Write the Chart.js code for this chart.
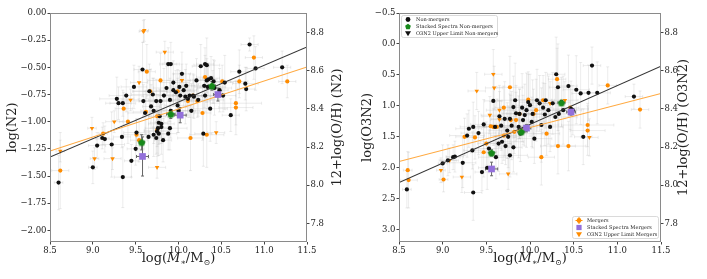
<!DOCTYPE html>
<html>
<head>
<meta charset="utf-8">
<script src="https://cdn.jsdelivr.net/npm/chart.js@4.4.1/dist/chart.umd.min.js"></script>
<style>
  html, body { margin: 0; padding: 0; background: #fff; }
  #wrap { position: relative; width: 707px; height: 279px; }
  .panel { position: absolute; top: 0; height: 279px; }
</style>
</head>
<body>
<div id="wrap">
  <div class="panel" style="left:0;width:355px"><canvas id="n2Chart"></canvas></div>
  <div class="panel" style="left:355px;width:352px"><canvas id="o3n2Chart"></canvas></div>
</div>
<script>
// rows are [logMass, value, xErr, yErr]
const nonMergersN2 = [
  [8.60,-1.56,0.05,0.25],[9.00,-1.42,0.05,0.15],[9.05,-1.22,0.10,0.12],[9.11,-1.15,0.08,0.10],
  [9.14,-1.16,0.10,0.12],[9.22,-1.21,0.15,0.30],[9.28,-0.79,0.20,0.20],[9.30,-0.83,0.15,0.15],
  [9.35,-0.83,0.15,0.12],[9.35,-1.51,0.10,0.28],[9.34,-1.14,0.10,0.10],[9.39,-0.76,0.20,0.15],
  [9.45,-1.36,0.08,0.15],[9.48,-0.68,0.15,0.20],[9.50,-1.25,0.10,0.15],[9.51,-1.10,0.15,0.12],
  [9.58,-0.52,0.10,0.25],[9.59,-0.81,0.30,0.15],[9.61,-0.92,0.20,0.20],[9.65,-1.14,0.15,0.20],
  [9.66,-0.72,0.20,0.25],[9.68,-0.86,0.10,0.20],[9.70,-0.75,0.25,0.15],[9.71,-0.90,0.15,0.30],
  [9.74,-1.15,0.10,0.15],[9.74,-0.81,0.20,0.20],[9.76,-1.06,0.15,0.25],[9.77,-1.11,0.10,0.20],
  [9.78,-0.95,0.20,0.25],[9.79,-0.81,0.25,0.20],[9.80,-1.02,0.15,0.18],[9.82,-1.17,0.10,0.20],
  [9.83,-0.76,0.20,0.25],[9.86,-0.69,0.15,0.20],[9.88,-0.47,0.10,0.15],[9.91,-0.47,0.10,0.20],
  [9.90,-0.80,0.25,0.20],[9.91,-0.90,0.20,0.25],[9.94,-0.64,0.15,0.20],[9.94,-0.71,0.20,0.15],
  [9.97,-0.73,0.10,0.20],[9.99,-0.85,0.15,0.25],[10.00,-0.90,0.20,0.20],[10.01,-0.68,0.10,0.15],
  [10.02,-0.76,0.25,0.20],[10.04,-0.56,0.10,0.20],[10.06,-0.71,0.15,0.15],[10.08,-0.77,0.20,0.25],
  [10.09,-0.67,0.10,0.20],[10.11,-0.79,0.15,0.15],[10.13,-0.76,0.20,0.20],[10.15,-0.90,0.10,0.25],
  [10.17,-0.76,0.15,0.15],[10.18,-0.77,0.20,0.20],[10.21,-0.62,0.10,0.20],[10.23,-0.80,0.30,0.15],
  [10.26,-0.49,0.10,0.20],[10.31,-0.47,0.10,0.15],[10.33,-0.48,0.15,0.25],[10.29,-1.11,0.10,0.30],
  [10.30,-0.67,0.15,0.20],[10.31,-0.76,0.20,0.15],[10.33,-0.62,0.10,0.20],[10.34,-0.68,0.15,0.20],
  [10.35,-0.61,0.10,0.15],[10.37,-0.88,0.20,0.30],[10.38,-0.60,0.10,0.20],[10.40,-0.68,0.15,0.15],
  [10.41,-0.63,0.10,0.20],[10.42,-0.69,0.20,0.25],[10.48,-0.71,0.10,0.20],[10.52,-0.76,0.15,0.15],
  [10.54,-0.64,0.10,0.25],[10.61,-0.94,0.10,0.15],[10.71,-0.54,0.10,0.20],[10.78,-0.65,0.15,0.15],
  [10.79,-0.70,0.10,0.20],[10.83,-0.29,0.10,0.06],[10.90,-0.51,0.10,0.20],[11.21,-0.50,0.10,0.15],
  [9.75,-1.09,0.15,0.20],[9.80,-1.05,0.10,0.25],[9.90,-1.06,0.20,0.20],[9.88,-1.11,0.10,0.15],
  [9.71,-1.12,0.15,0.20],[9.77,-1.01,0.10,0.20]
];
const mergersN2 = [
  [8.62,-1.45,0.10,0.35],[9.12,-1.11,0.05,0.10],[9.36,-0.88,0.10,0.15],[9.41,-1.00,0.10,0.20],
  [9.51,-1.12,0.15,0.15],[9.54,-1.17,0.10,0.20],[9.62,-0.91,0.15,0.20],[9.63,-0.54,0.10,0.25],
  [9.67,-0.72,0.20,0.20],[9.75,-0.95,0.10,0.20],[9.75,-1.08,0.15,0.15],[9.79,-0.62,0.15,0.25],
  [9.99,-0.72,0.20,0.20],[10.11,-0.81,0.10,0.15],[10.14,-1.15,0.15,0.30],[10.17,-0.76,0.10,0.20],
  [10.22,-0.81,0.15,0.15],[10.28,-0.92,0.10,0.25],[10.31,-0.59,0.10,0.20],[10.33,-1.12,0.20,0.30],
  [10.51,-0.63,0.10,0.15],[10.67,-0.83,0.30,0.20],[10.67,-0.87,0.20,0.25],[10.71,-0.63,0.10,0.15],
  [10.88,-0.41,0.10,0.20],[11.27,-0.63,0.10,0.15]
];
const mergerLimitsN2 = [
  [8.62,-1.27,0.05,0.10],[8.99,-1.06,0.05,0.10],[9.02,-1.34,0.05,0.10],[9.23,-1.34,0.10,0.10],
  [9.25,-1.00,0.10,0.10],[9.44,-0.80,0.10,0.10],[9.54,-0.64,0.10,0.15],[9.59,-0.17,0.05,0.10],
  [9.60,-0.16,0.05,0.10],[9.75,-1.42,0.10,0.10],[9.84,-0.36,0.10,0.10],[10.04,-0.62,0.10,0.15],
  [10.44,-1.10,0.10,0.10]
];
const stackNonN2 = [[9.57,-1.19,0.03,0.07],[9.91,-0.93,0.05,0.04],[10.39,-0.67,0.04,0.04]];
const stackMerN2 = [[9.58,-1.32,0.07,0.18],[10.02,-0.94,0.07,0.07],[10.46,-0.75,0.05,0.06]];

const nonMergersO3N2 = [
  [8.59,2.35,0.05,0.30],[9.00,1.93,0.05,0.30],[9.06,1.88,0.10,0.25],[9.12,1.83,0.08,0.20],
  [9.14,1.82,0.10,0.25],[9.23,1.92,0.15,0.40],[9.28,1.48,0.20,0.35],[9.30,1.37,0.15,0.30],
  [9.35,1.34,0.15,0.40],[9.35,2.40,0.10,0.45],[9.34,1.72,0.10,0.30],[9.41,1.44,0.20,0.35],
  [9.45,2.07,0.08,0.30],[9.47,1.30,0.15,0.40],[9.51,2.00,0.10,0.35],[9.53,1.69,0.15,0.30],
  [9.58,0.92,0.10,0.45],[9.60,1.34,0.30,0.40],[9.61,1.83,0.20,0.35],[9.64,1.61,0.15,0.45],
  [9.65,1.17,0.20,0.50],[9.67,1.32,0.10,0.40],[9.68,1.58,0.25,0.35],[9.71,1.21,0.15,0.60],
  [9.72,1.65,0.10,0.30],[9.74,1.40,0.20,0.45],[9.75,1.50,0.15,0.50],[9.77,1.21,0.10,0.40],
  [9.77,1.80,0.20,0.35],[9.79,1.32,0.25,0.55],[9.81,1.02,0.15,0.50],[9.81,1.67,0.10,0.40],
  [9.83,0.91,0.20,0.60],[9.84,1.12,0.15,0.45],[9.87,1.34,0.10,0.50],[9.88,1.13,0.20,0.40],
  [9.89,1.45,0.25,0.45],[9.91,1.03,0.15,0.55],[9.92,1.23,0.20,0.40],[9.94,1.15,0.10,0.50],
  [9.96,1.07,0.15,0.60],[9.98,0.94,0.10,0.45],[10.00,0.99,0.20,0.50],[10.02,1.26,0.15,0.40],
  [10.03,1.13,0.10,0.55],[10.05,1.53,0.20,0.40],[10.08,0.91,0.10,0.50],[10.11,0.96,0.15,0.45],
  [10.13,1.31,0.20,0.60],[10.15,1.03,0.10,0.40],[10.17,1.14,0.15,0.50],[10.18,0.91,0.10,0.45],
  [10.21,1.07,0.20,0.55],[10.23,1.34,0.15,0.40],[10.26,0.96,0.10,0.50],[10.29,1.18,0.25,0.45],
  [10.30,0.49,0.10,0.60],[10.32,0.70,0.10,0.70],[10.33,1.13,0.20,0.50],[10.36,0.94,0.10,0.40],
  [10.38,1.07,0.15,0.55],[10.44,0.68,0.10,0.50],[10.47,1.05,0.20,0.45],[10.49,1.07,0.10,0.40],
  [10.53,0.74,0.15,0.55],[10.58,0.80,0.10,0.50],[10.61,1.50,0.10,0.45],[10.67,0.79,0.10,0.45],
  [10.71,0.35,0.10,0.30],[10.77,0.79,0.15,0.50],[11.19,0.85,0.10,0.20]
];
const mergersO3N2 = [
  [8.60,2.04,0.05,0.30],[8.61,2.20,0.10,0.45],[9.01,2.19,0.05,0.20],[9.25,1.50,0.10,0.30],
  [9.37,1.51,0.10,0.35],[9.47,1.75,0.15,0.40],[9.50,1.61,0.10,0.35],[9.55,1.33,0.15,0.40],
  [9.58,1.34,0.10,0.30],[9.62,1.34,0.20,0.45],[9.70,1.48,0.15,0.40],[9.70,1.03,0.10,0.35],
  [9.77,0.70,0.15,0.50],[9.78,1.23,0.10,0.40],[9.82,1.42,0.15,0.35],[9.84,1.23,0.10,0.45],
  [9.88,1.13,0.15,0.40],[9.98,0.90,0.20,0.45],[10.04,1.13,0.10,0.40],[10.07,1.07,0.15,0.50],
  [10.13,1.83,0.15,0.45],[10.15,0.91,0.10,0.40],[10.19,1.45,0.15,0.35],[10.31,0.57,0.10,0.50],
  [10.32,1.65,0.20,0.45],[10.44,1.65,0.20,0.40],[10.46,1.03,0.10,0.35],[10.66,1.31,0.30,0.35],
  [10.66,1.40,0.20,0.40],[10.89,0.67,0.10,0.30],[11.26,1.06,0.10,0.30]
];
const mergerLimitsO3N2 = [
  [8.98,2.04,0.05,0.20],[9.08,1.88,0.10,0.20],[9.22,2.15,0.10,0.25],[9.39,0.76,0.10,0.30],
  [9.54,1.15,0.10,0.30],[9.58,0.49,0.10,0.40],[9.59,0.71,0.10,0.35],[9.65,1.07,0.15,0.30],
  [9.65,1.22,0.10,0.30],[9.75,2.10,0.10,0.25],[10.23,0.96,0.10,0.35],[10.40,0.91,0.15,0.30],
  [10.68,1.51,0.10,0.30]
];
const stackNonO3N2 = [[9.56,1.76,0.03,0.05],[9.90,1.42,0.04,0.04],[10.36,0.95,0.04,0.04]];
const stackMerO3N2 = [[9.56,2.02,0.07,0.11],[9.96,1.36,0.05,0.06],[10.47,1.10,0.05,0.05]];

// fitted relations, read at the plot edges
const fitX = [8.5, 11.5];
const fitNonN2 = [-1.325, -0.313];
const fitMerN2 = [-1.27, -0.497];
const fitNonO3N2 = [2.24, 0.36];
const fitMerO3N2 = [1.90, 0.80];

const massTicks = [8.5, 9.0, 9.5, 10.0, 10.5, 11.0, 11.5];
const n2Ticks = [0, -0.25, -0.5, -0.75, -1.0, -1.25, -1.5, -1.75, -2.0];
const o3n2Ticks = [-0.5, 0, 0.5, 1.0, 1.5, 2.0, 2.5, 3.0];
const ohTicks = [7.8, 8.0, 8.2, 8.4, 8.6, 8.8];
const legendNonLabels = ['Non-mergers', 'Stacked Spectra Non-mergers', 'O3N2 Upper Limit Non-mergers'];
const legendMerLabels = ['Mergers', 'Stacked Spectra Mergers', 'O3N2 Upper Limit Mergers'];

const FONT = '"DejaVu Serif", serif';
const ORANGE = '#ff8c00';
const ORANGE_LINE = '#ffa940';
const GREEN = '#17891a';
const PURPLE = '#9370db';
const ERR = 'rgba(175,175,175,0.3)';

function fmt(v, d) { return v.toFixed(d).replace('-', '\u2212'); }

function pentagonPath(ctx, x, y, r) {
  ctx.beginPath();
  for (let i = 0; i < 5; i++) {
    const a = -Math.PI / 2 + i * 2 * Math.PI / 5;
    const px = x + r * Math.cos(a), py = y + r * Math.sin(a);
    i ? ctx.lineTo(px, py) : ctx.moveTo(px, py);
  }
  ctx.closePath();
}
function pentagonImage(r, color) {
  const c = document.createElement('canvas');
  const s = Math.ceil(r * 2 + 2);
  c.width = c.height = s;
  const g = c.getContext('2d');
  pentagonPath(g, s / 2, s / 2 + 0.4, r);
  g.fillStyle = color;
  g.fill();
  return c;
}
const pentagon = pentagonImage(3.9, GREEN);

function scatterSet(rows, color, style, radius, rotation, order) {
  return {
    data: rows.map(r => ({ x: r[0], y: r[1] })),
    errors: rows.map(r => [r[2], r[3]]),
    errorColor: ERR, errorWidth: 0.8,
    pointStyle: style, pointRadius: radius, rotation: rotation,
    backgroundColor: color, borderColor: color, borderWidth: 0,
    showLine: false, order: order
  };
}
function stackSet(rows, color, style, radius, order) {
  const ds = scatterSet(rows, color, style, radius, 0, order);
  ds.errorColor = '#666';
  ds.errorWidth = 1;
  return ds;
}
function lineSet(ys, color, order) {
  return {
    data: fitX.map((x, i) => ({ x: x, y: ys[i] })),
    showLine: true, pointRadius: 0, borderColor: color, borderWidth: 1.1,
    fill: false, order: order
  };
}

const errorBars = {
  id: 'errorBars',
  beforeDatasetsDraw(chart) {
    const ctx = chart.ctx, xs = chart.scales.x, ys = chart.scales.y, ca = chart.chartArea;
    ctx.save();
    ctx.beginPath();
    ctx.rect(ca.left, ca.top, ca.right - ca.left, ca.bottom - ca.top);
    ctx.clip();
    chart.data.datasets.forEach(ds => {
      if (!ds.errors) return;
      ctx.strokeStyle = ds.errorColor;
      ctx.lineWidth = ds.errorWidth;
      ds.data.forEach((p, i) => {
        const [xe, ye] = ds.errors[i];
        const px = xs.getPixelForValue(p.x), py = ys.getPixelForValue(p.y);
        const x0 = xs.getPixelForValue(p.x - xe), x1 = xs.getPixelForValue(p.x + xe);
        const y0 = ys.getPixelForValue(p.y - ye), y1 = ys.getPixelForValue(p.y + ye);
        ctx.beginPath();
        ctx.moveTo(x0, py); ctx.lineTo(x1, py);
        ctx.moveTo(px, y0); ctx.lineTo(px, y1);
        ctx.moveTo(x0, py - 1.5); ctx.lineTo(x0, py + 1.5);
        ctx.moveTo(x1, py - 1.5); ctx.lineTo(x1, py + 1.5);
        ctx.moveTo(px - 1.5, y0); ctx.lineTo(px + 1.5, y0);
        ctx.moveTo(px - 1.5, y1); ctx.lineTo(px + 1.5, y1);
        ctx.stroke();
      });
    });
    ctx.restore();
  }
};

function vText(ctx, text, x, y) {
  ctx.save();
  ctx.translate(x, y);
  ctx.rotate(-Math.PI / 2);
  ctx.textAlign = 'center';
  ctx.textBaseline = 'middle';
  ctx.fillText(text, 0, 0);
  ctx.restore();
}

function massTitle(ctx, cx, base) {
  const parts = [
    ['log(', '13px ' + FONT, 0], ['M', 'italic 13px ' + FONT, 0], ['\u2217', '8px ' + FONT, 3],
    ['/M', '13px ' + FONT, 0], ['\u2299', '8px ' + FONT, 3], [')', '13px ' + FONT, 0]
  ];
  let w = 0;
  parts.forEach(p => { ctx.font = p[1]; w += ctx.measureText(p[0]).width; });
  let x = cx - w / 2;
  ctx.textAlign = 'left';
  ctx.textBaseline = 'alphabetic';
  parts.forEach(p => {
    ctx.font = p[1];
    ctx.fillText(p[0], x, base + p[2]);
    x += ctx.measureText(p[0]).width;
  });
}

function marker(ctx, kind, x, y) {
  ctx.save();
  if (kind === 'black') {
    ctx.fillStyle = '#111'; ctx.beginPath(); ctx.arc(x, y, 2.4, 0, Math.PI * 2); ctx.fill();
  } else if (kind === 'orange') {
    ctx.strokeStyle = ORANGE; ctx.lineWidth = 1;
    ctx.beginPath(); ctx.moveTo(x - 3.5, y); ctx.lineTo(x + 3.5, y);
    ctx.moveTo(x, y - 3.5); ctx.lineTo(x, y + 3.5); ctx.stroke();
    ctx.fillStyle = ORANGE; ctx.beginPath(); ctx.arc(x, y, 2.4, 0, Math.PI * 2); ctx.fill();
  } else if (kind === 'green') {
    pentagonPath(ctx, x, y + 0.3, 3); ctx.fillStyle = GREEN; ctx.fill();
  } else if (kind === 'purple') {
    ctx.fillStyle = PURPLE; ctx.fillRect(x - 2.6, y - 2.6, 5.2, 5.2);
  } else {
    ctx.fillStyle = kind === 'blackTri' ? '#111' : ORANGE;
    ctx.beginPath(); ctx.moveTo(x - 3, y - 2.2); ctx.lineTo(x + 3, y - 2.2); ctx.lineTo(x, y + 2.8);
    ctx.closePath(); ctx.fill();
  }
  ctx.restore();
}

function legendBox(ctx, left, top, w, labels, kinds) {
  const h = 22;
  ctx.save();
  ctx.fillStyle = 'rgba(255,255,255,0.85)';
  ctx.strokeStyle = '#d0d0d0';
  ctx.lineWidth = 0.8;
  ctx.beginPath();
  ctx.roundRect(left + 0.5, top + 0.5, w, h, 2);
  ctx.fill();
  ctx.stroke();
  ctx.font = '5px ' + FONT;
  ctx.fillStyle = '#222';
  ctx.textAlign = 'left';
  ctx.textBaseline = 'middle';
  labels.forEach((t, i) => {
    const y = top + 4.5 + i * 7;
    marker(ctx, kinds[i], left + 7, y);
    ctx.fillText(t, left + 15, y);
  });
  ctx.restore();
}

function decor(o) {
  return {
    id: 'decor',
    afterDraw(chart) {
      const ctx = chart.ctx, ca = chart.chartArea;
      ctx.save();
      ctx.strokeStyle = '#8a8a8a';
      ctx.lineWidth = 1;
      ctx.strokeRect(Math.round(ca.left) + 0.5, Math.round(ca.top) + 0.5,
        Math.round(ca.right - ca.left) - 1, Math.round(ca.bottom - ca.top) - 1);
      ctx.fillStyle = '#222';
      ctx.font = '13px ' + FONT;
      vText(ctx, o.yTitle, 13, (ca.top + ca.bottom) / 2);
      vText(ctx, o.y2Title, o.y2TitleX, (ca.top + ca.bottom) / 2);
      massTitle(ctx, (ca.left + ca.right) / 2, 262);
      if (o.legends) {
        legendBox(ctx, ca.left + 2, ca.top + 2, 96, legendNonLabels, ['black', 'green', 'blackTri']);
        legendBox(ctx, ca.right - 89, ca.bottom - 26, 86, legendMerLabels, ['orange', 'purple', 'orangeTri']);
      }
      ctx.restore();
    }
  };
}

function tickFont() { return { family: FONT, size: 8.5 }; }

function makePanel(id, o) {
  const datasets = [
    scatterSet(o.limits, ORANGE, 'triangle', 2.6, 180, 7),
    scatterSet(o.mergers, ORANGE, 'circle', 2.1, 0, 6),
    scatterSet(o.nonMergers, '#111', 'circle', 2.1, 0, 5),
    lineSet(o.fitNon, '#333', 4),
    lineSet(o.fitMer, ORANGE_LINE, 3),
    stackSet(o.stackMer, PURPLE, 'rect', 4.7, 1),
    stackSet(o.stackNon, GREEN, pentagon, 4, 0)
  ];
  return new Chart(document.getElementById(id), {
    type: 'scatter',
    data: { datasets: datasets },
    options: {
      responsive: true,
      maintainAspectRatio: false,
      animation: false,
      layout: { padding: { top: 13, left: 0, right: 0, bottom: 0 } },
      plugins: { legend: { display: false }, tooltip: { enabled: false } },
      scales: {
        x: {
          type: 'linear', min: 8.5, max: 11.5,
          afterBuildTicks: s => { s.ticks = massTicks.map(v => ({ value: v })); },
          ticks: { callback: v => fmt(v, 1), font: tickFont(), color: '#222', padding: 1, maxRotation: 0, autoSkip: false },
          grid: { drawOnChartArea: false, tickLength: 2.5, color: '#444' },
          border: { display: false },
          afterFit: s => { s.height = 37; }
        },
        y: {
          type: 'linear', position: 'left', min: o.yMin, max: o.yMax, reverse: o.reverse,
          afterBuildTicks: s => { s.ticks = o.yTicks.map(v => ({ value: v })); },
          ticks: { callback: v => fmt(v, o.digits), font: tickFont(), color: '#222', padding: 1, autoSkip: false },
          grid: { drawOnChartArea: false, tickLength: 2.5, color: '#444' },
          border: { display: false },
          afterFit: s => { s.width = o.leftW; }
        },
        y2: {
          type: 'linear', position: 'right', min: 7.702, max: 8.903,
          afterBuildTicks: s => { s.ticks = ohTicks.map(v => ({ value: v })); },
          ticks: { callback: v => fmt(v, 1), font: tickFont(), color: '#222', padding: 1, autoSkip: false },
          grid: { drawOnChartArea: false, tickLength: 2.5, color: '#444' },
          border: { display: false },
          afterFit: s => { s.width = o.rightW; }
        }
      }
    },
    plugins: [errorBars, decor(o)]
  });
}

makePanel('n2Chart', {
  nonMergers: nonMergersN2, mergers: mergersN2, limits: mergerLimitsN2,
  stackNon: stackNonN2, stackMer: stackMerN2, fitNon: fitNonN2, fitMer: fitMerN2,
  yMin: -2.107, yMax: 0, reverse: false, yTicks: n2Ticks, digits: 2,
  leftW: 50, rightW: 48,
  yTitle: 'log(N2)', y2Title: '12+log(O/H) (N2)', y2TitleX: 338, legends: false
});

makePanel('o3n2Chart', {
  nonMergers: nonMergersO3N2, mergers: mergersO3N2, limits: mergerLimitsO3N2,
  stackNon: stackNonO3N2, stackMer: stackMerO3N2, fitNon: fitNonO3N2, fitMer: fitMerO3N2,
  yMin: -0.5, yMax: 3.2, reverse: true, yTicks: o3n2Ticks, digits: 1,
  leftW: 44, rightW: 46,
  yTitle: 'log(O3N2)', y2Title: '12+log(O/H) (O3N2)', y2TitleX: 329, legends: true
});
</script>
</body>
</html>
